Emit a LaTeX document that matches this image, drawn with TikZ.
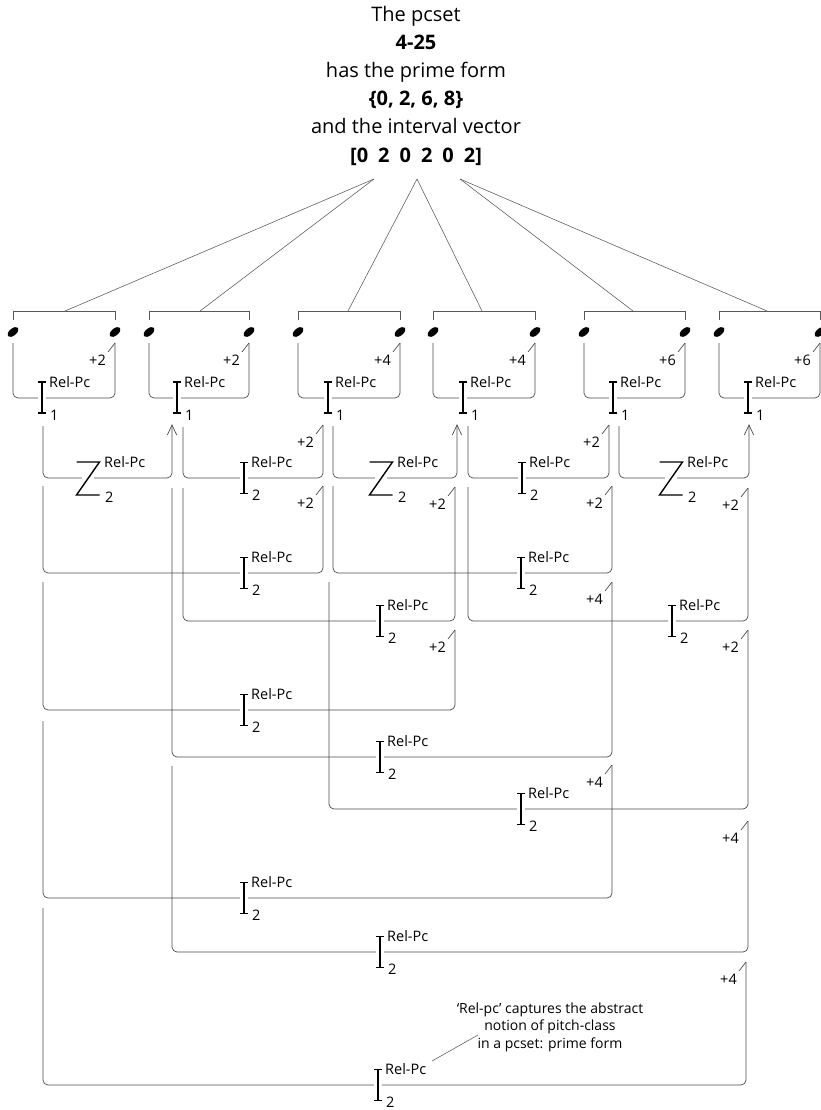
\documentclass[tikz,border=0pt]{standalone}
\usepackage{fontspec}
\setmainfont{Open Sans}
\usetikzlibrary{shapes.geometric}

\tikzset{
  conn/.style={draw=black!70, line width=0.7pt, rounded corners=5pt},
  tickln/.style={draw=black!70, line width=0.7pt},
  beam/.style={draw=black, line width=1.4pt},
  lbl/.style={inner sep=0pt, font=\fontsize{14.5}{17}\selectfont},
  annot/.style={inner sep=0pt, font=\fontsize{14}{17}\selectfont},
  note/.style={ellipse, fill=black, minimum width=13pt, minimum height=7pt, inner sep=0pt, rotate=40},
  ttl/.style={inner sep=0pt, font=\fontsize{20}{24}\selectfont},
  thinln/.style={draw=black!65, line width=0.55pt},
}

% I-beam symbol: id, x, y(center), subscript
\newcommand\IBeam[4]{%
  \coordinate (#1t) at (#2,#3-15.5);
  \coordinate (#1b) at (#2,#3+15.5);
  \draw[white, line width=3pt] (#2-4,#3) -- (#2+4,#3);
  \draw[beam] (#1t) -- (#1b);
  \draw[beam] (#2-4,#3-15.5) -- (#2+4,#3-15.5);
  \draw[beam] (#2-4,#3+15.5) -- (#2+4,#3+15.5);
  \node[lbl, anchor=base west] (#1r) at (#2+7,#3-10.5) {Rel-Pc};
  \node[lbl, anchor=base west] (#1s) at (#2+8,#3+22.5) {#4};
}

% Z symbol: id, x(center), y(center)
\newcommand\ZSym[3]{%
  \draw[white, line width=3pt] (#2-6,#3) -- (#2+6,#3);
  \coordinate (#1t) at (#2+11.5,#3-16);
  \coordinate (#1b) at (#2-11.5,#3+17);
  \draw[beam, line join=miter] (#2-11.5,#3-16) -- (#1t) -- (#1b) -- (#2+11.5,#3+17);
  \node[lbl, anchor=base west] (#1r) at (#2+16,#3-11) {Rel-Pc};
  \node[lbl, anchor=base west] (#1s) at (#2+17,#3+24) {2};
}

% connector: id, outx, starty, level, inx, tipy, label (empty = full arrow), symbol x
\newcommand\Conn[8]{%
  \coordinate (#1a) at (#2,#3);
  \coordinate (#1m) at (#8,#4);
  \coordinate (#1z) at (#5,#6);
  \draw[conn] (#1a) |- (#1m) -| (#1z);
  \if\relax\detokenize{#7}\relax
    \draw[tickln] ([xshift=-4.7pt,yshift=-10pt]#1z) -- (#1z) -- ([xshift=4.7pt,yshift=-10pt]#1z);
  \else
    \draw[tickln] (#1z) -- ([xshift=-7pt,yshift=-9pt]#1z);
    \node[lbl, anchor=north east] (#1l) at ([xshift=-9pt,yshift=-12pt]#1z) {#7};
  \fi
}

% pair of notes: id, L, R, bracket mid, apex, label, I-beam x
\newcommand\Pair[7]{%
  \coordinate (#1bl) at (#2,320);
  \coordinate (#1br) at (#3,320);
  \coordinate (#1top) at (#4,311);
  \draw[thinln] (#1bl) -- (#2,311) -- (#3,311) -- (#1br);
  \draw[thinln] (#5) -- (#1top);
  \node[note] (#1nl) at (#2,332) {};
  \node[note] (#1nr) at (#3,332) {};
  \Conn{#1}{#2}{343}{398}{#3}{343}{#6}{#7}
  \IBeam{#1i}{#7}{397.5}{1}
}

\begin{document}
\begin{tikzpicture}[x=1pt,y=-1pt]
\fill[white] (0,0) rectangle (821,1110);
\useasboundingbox (0,0) rectangle (821,1110);

% title
\node[ttl, anchor=base] (t1) at (416,22) {The pcset};
\node[ttl, anchor=base] (t2) at (416,49.5) {\bfseries 4-25};
\node[ttl, anchor=base] (t3) at (416,78) {has the prime form};
\node[ttl, anchor=base] (t4) at (416,106) {\bfseries\{0, 2, 6, 8\}};
\node[ttl, anchor=base] (t5) at (416,133.5) {and the interval vector};
\node[ttl, anchor=base] (t6) at (416,163) {\bfseries[0\hspace{0.5em}2\hspace{0.5em}0\hspace{0.5em}2\hspace{0.5em}0\hspace{0.5em}2]};

\coordinate (ap1) at (374,179);
\coordinate (ap2) at (417,179);
\coordinate (ap3) at (460,179);

% pairs
\Pair{p1}{13}{115}{65}{ap1}{+2}{42}
\Pair{p2}{149}{249}{200}{ap1}{+2}{177}
\Pair{p3}{298}{400}{348}{ap2}{+4}{328}
\Pair{p4}{433}{535}{482}{ap2}{+4}{463}
\Pair{p5}{584}{685}{633}{ap3}{+6}{613}
\Pair{p6}{719}{820}{767}{ap3}{+6}{748}

% connectors
\Conn{c1}{43}{426}{478}{172}{425}{}{88}
\Conn{c2}{183}{427}{478}{323}{425}{+2}{244}
\Conn{c3}{333}{426}{478}{457}{425}{}{381}
\Conn{c4}{468}{426}{478}{609}{425}{+2}{522}
\Conn{c5}{619}{426}{478}{749}{425}{}{671}
\Conn{c6}{43}{486}{573}{323}{486}{+2}{244}
\Conn{c7}{333}{486}{573}{612}{486}{+2}{521}
\Conn{c8}{183}{488}{621}{455}{487}{+2}{380}
\Conn{c9}{468}{487}{621}{748}{488}{+2}{672}
\Conn{c10}{172}{488}{757}{612}{582}{+4}{380}
\Conn{c11}{43}{582}{710}{455}{630}{+2}{244}
\Conn{c12}{329}{582}{809}{748}{630}{+2}{521}
\Conn{c13}{43}{721}{898}{612}{765}{+4}{244}
\Conn{c14}{172}{766}{952}{748}{821}{+4}{380}
\Conn{c15}{43}{908}{1085}{746}{962}{+4}{378}

% symbols
\ZSym{c1s}{88}{478}
\IBeam{c2i}{244}{478}{2}
\ZSym{c3s}{381}{478}
\IBeam{c4i}{522}{478}{2}
\ZSym{c5s}{671}{478}
\IBeam{c6i}{244}{573}{2}
\IBeam{c7i}{521}{573}{2}
\IBeam{c8i}{380}{621}{2}
\IBeam{c9i}{672}{621}{2}
\IBeam{c10i}{380}{757}{2}
\IBeam{c11i}{244}{710}{2}
\IBeam{c12i}{521}{809}{2}
\IBeam{c13i}{244}{898}{2}
\IBeam{c14i}{380}{952}{2}
\IBeam{c15i}{378}{1085}{2}

% annotation
\node[annot, anchor=base] (a1) at (550,1013) {‘Rel-pc’ captures the abstract};
\node[annot, anchor=base] (a2) at (550,1030.5) {notion of pitch-class};
\node[annot, anchor=base] (a3) at (550,1048) {in a pcset: prime form};
\coordinate (ld1) at (432,1061);
\coordinate (ld2) at (478,1035);
\draw[thinln] (ld1) -- (ld2);
\end{tikzpicture}
\end{document}
